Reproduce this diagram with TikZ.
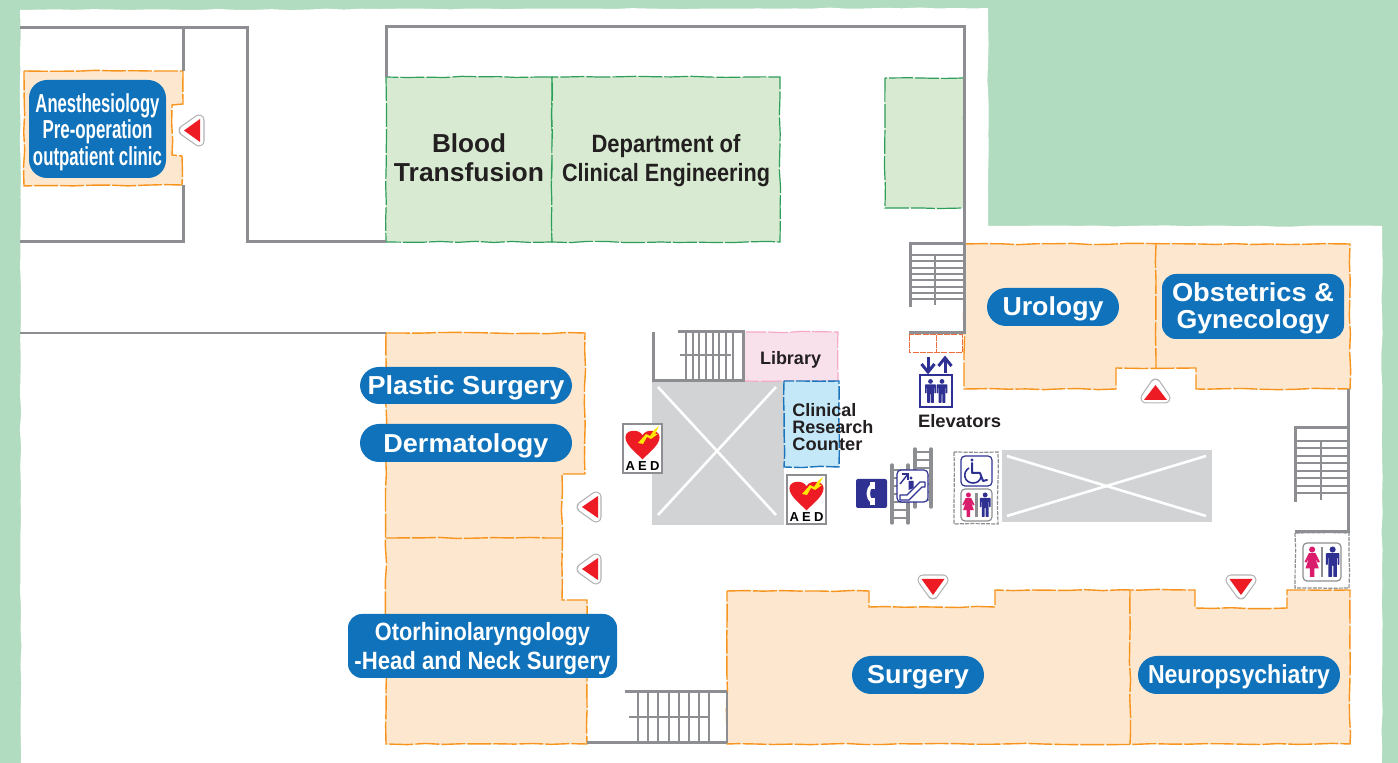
\documentclass[tikz,border=0pt]{standalone}
\usepackage{fontspec}
\usepackage{graphicx}
\setmainfont{Liberation Sans}
\usetikzlibrary{decorations.pathmorphing}
\definecolor{bggreen}{HTML}{B2DCC0}
\definecolor{wallgray}{HTML}{8C8E91}
\definecolor{voidgray}{HTML}{D1D3D4}
\definecolor{roomgreen}{HTML}{D8EBD2}
\definecolor{edgegreen}{HTML}{2E9E5B}
\definecolor{roomorange}{HTML}{FDE7CF}
\definecolor{edgeorange}{HTML}{F7941D}
\definecolor{roompink}{HTML}{F9E1EC}
\definecolor{edgepink}{HTML}{F5A9C8}
\definecolor{roomblue}{HTML}{C5E8F8}
\definecolor{edgeblue}{HTML}{1C75BC}
\definecolor{pillblue}{HTML}{0F72BA}
\definecolor{navy}{HTML}{2E3192}
\definecolor{wcpink}{HTML}{DA1C6C}
\definecolor{mapred}{HTML}{ED1C24}
\definecolor{darktext}{HTML}{231F20}
\definecolor{edgered}{HTML}{F26B3A}
% #1 downward shift of the text in pt, #2 width in pt, #3 font size, #4 text
\newcommand{\fitw}[4][0]{\raisebox{-#1pt}[\height][\depth]{\resizebox{#2pt}{\height}{\fontsize{#3}{#3}\selectfont\bfseries #4}}}
\tikzset{
  wobble/.style={decorate,decoration={random steps,segment length=9pt,amplitude=.35pt}},
  wall/.style={draw=wallgray,line width=1.5pt,line join=miter},
  tread/.style={draw=wallgray,line width=.9pt},
  greenroom/.style={fill=roomgreen,draw=edgegreen,line width=.6pt,dash pattern=on 12pt off 1pt,wobble},
  orangeroom/.style={fill=roomorange,draw=edgeorange,line width=.7pt,dash pattern=on 12pt off 1pt,wobble},
  pill/.style={fill=pillblue,text=white,inner sep=0pt,align=center,font=\bfseries\fontsize{12}{14.5}\selectfont},
  label/.style={text=darktext,inner sep=0pt,align=center,font=\bfseries\fontsize{12}{14.5}\selectfont},
  crossline/.style={draw=white,line width=1.3pt},
  haloout/.style={draw=voidgray!85!black,fill=voidgray!85!black,line width=5.5pt,line join=round},
  haloin/.style={draw=white,fill=white,line width=4.3pt,line join=round},
  redtri/.style={fill=mapred},
  iconbox/.style={draw=navy,fill=white,line width=.6pt,rounded corners=2pt},
  graybox/.style={draw=wallgray,line width=.6pt,dash pattern=on 2pt off .6pt,wobble}
}
\newcommand{\manfig}[4]{\begin{scope}[shift={(#1,#2)},scale=#3]
 \fill[#4] (0,.1) circle (.1);
 \fill[#4,rounded corners=.3pt] (-.22,.22)--(.22,.22)--(.22,.6)--(.16,.6)--(.16,.36)--(.14,.36)--(.14,1)--(.02,1)--(.02,.62)--(-.02,.62)--(-.02,1)--(-.14,1)--(-.14,.36)--(-.16,.36)--(-.16,.6)--(-.22,.6)--cycle;
\end{scope}}
\newcommand{\womanfig}[4]{\begin{scope}[shift={(#1,#2)},scale=#3]
 \fill[#4] (0,.1) circle (.1);
 \fill[#4] (-.11,.22)--(.11,.22)--(.25,.5)--(.19,.53)--(.1,.38)--(.22,.72)--(.07,.72)--(.07,1)--(-.07,1)--(-.07,.72)--(-.22,.72)--(-.1,.38)--(-.19,.53)--(-.25,.5)--cycle;
\end{scope}}
\newcommand{\aedicon}[3]{\begin{scope}[shift={(#1,#2)}]
 \draw[draw=wallgray,fill=white,line width=.7pt] (0,0) rectangle (39,49);
 \begin{scope}[shift={(19.5,5)},scale=31]
 \fill[mapred] (0,.98) .. controls (-.3,.68) and (-.55,.5) .. (-.55,.26) .. controls (-.55,.02) and (-.12,-.02) .. (0,.2) .. controls (.12,-.02) and (.55,.02) .. (.55,.26) .. controls (.55,.5) and (.3,.68) .. (0,.98) -- cycle;
 \end{scope}
 \fill[yellow!90!orange] (36,2)--(32,10)--(35,10)--(28,15)--(24,13)--(20,20)--(15,19)--(23,10)--(27,12)--(31,6)--cycle;
 \node[text=black,inner sep=0pt,font=\bfseries\fontsize{6.5}{6.5}\selectfont] (#3) at (19.5,42) {A\kern1.6pt E\kern1.6pt D};
\end{scope}}
\newcommand{\wcicon}[4]{\begin{scope}[shift={(#1,#2)}]
 \draw[draw=wallgray,fill=white,line width=.6pt,rounded corners=2pt] (0,0) rectangle (#3,#4);
 \draw[wallgray,line width=1.1pt] (#3*.5,4) -- (#3*.5,#4-4);
 \womanfig{#3*.24}{3.5}{#4-7.5}{wcpink}
 \manfig{#3*.78}{3.5}{#4-7.5}{navy}
\end{scope}}
\begin{document}
\begin{tikzpicture}[x=.5pt,y=-.5pt]
\useasboundingbox (0,0) rectangle (1398,763);
\begin{scope}
\clip (0,0) rectangle (1398,763);
\fill[bggreen] (0,0) rectangle (1398,763);
\fill[white,wobble] (20,10) -- (988,8) -- (988,226) -- (1382,226) -- (1382,790) -- (21,790) -- cycle;
\end{scope}

% voids
\fill[voidgray] (652,381) rectangle (784,525);
\draw[crossline] (658,387) -- (776,515);
\draw[crossline] (776,387) -- (658,515);
\fill[voidgray] (1002,450) rectangle (1212,522);
\draw[crossline] (1007,456) -- (1206,516);
\draw[crossline] (1007,516) -- (1206,456);

% rooms
\path[greenroom] (386,77) rectangle (552,242);
\path[greenroom] (552,77) rectangle (780,242);
\path[greenroom] (885,78) rectangle (964,208);
\path[orangeroom] (24,71) -- (183,71) -- (183,104) -- (172,105) -- (172,155) -- (182,156) -- (182,185) -- (24,186) -- cycle;
\path[orangeroom] (964,244) -- (1350,244) -- (1350,389) -- (1196,389) -- (1196,368) -- (1116,368) -- (1116,389) -- (964,389) -- cycle;
\draw[edgeorange,line width=.7pt,dash pattern=on 12pt off 1pt,wobble] (1156,244) -- (1156,368);
\path[orangeroom] (386,333) -- (585,333) -- (585,474) -- (562,474) -- (562,600) -- (587,600) -- (587,744) -- (386,744) -- cycle;
\draw[edgeorange,line width=.7pt,dash pattern=on 12pt off 1pt,wobble] (386,538) -- (562,538);
\path[orangeroom] (727,591) -- (869,591) -- (869,607) -- (995,607) -- (995,590) -- (1195,590) -- (1195,608) -- (1287,608) -- (1287,590) -- (1350,590) -- (1350,744) -- (727,744) -- cycle;
\draw[edgeorange,line width=.7pt,dash pattern=on 12pt off 1pt,wobble] (1130,590) -- (1130,744);
\path[fill=roompink,draw=edgepink,line width=.6pt,dash pattern=on 10pt off 1pt,wobble] (744,332) rectangle (838,381);
\path[fill=roomblue,draw=edgeblue,line width=.7pt,dash pattern=on 7pt off 1pt,wobble] (784,381) rectangle (839,467);
\draw[edgered,line width=.5pt,dash pattern=on 3pt off .6pt] (909,335) rectangle (962,353);
\draw[edgered,line width=.5pt,dash pattern=on 3pt off .6pt] (936,335) -- (936,353);

% walls
\draw[wall] (20,28) -- (247,28) -- (247,242) -- (386,242);
\draw[wall] (183,28) -- (183,71);
\draw[wall] (183,185) -- (183,242) -- (20,242);
\draw[wall] (386,77) -- (386,27) -- (964,27) -- (964,244);
\draw[wall,line width=1pt] (20,333) -- (386,333);
\draw[wall] (964,244) -- (964,333) -- (909,333);
\draw[wall] (1348,389) -- (1348,532) -- (1295,532);
\draw[wall] (587,743) -- (727,743);

% stairs: upper right of corridor
\draw[wall] (910,307) -- (910,244) -- (964,244);
\foreach \yy in {255,261,268,274,280,287,293,299} \draw[tread] (910,\yy) -- (963,\yy);
\draw[tread,line width=.6pt] (935,255) -- (935,305);
% stairs: right
\draw[wall] (1295,502) -- (1295,428) -- (1348,428);
\foreach \yy in {441,448,456,463,471,478,486,493} \draw[tread] (1295,\yy) -- (1347,\yy);
\draw[tread,line width=.6pt] (1321,441) -- (1321,500);
% stairs: centre
\draw[wall] (653,332) -- (653,381) -- (743,381) -- (743,332) -- (678,332);
\foreach \xx in {686,693,699,706,713,719,726,733} \draw[tread] (\xx,332) -- (\xx,381);
\draw[tread,line width=.6pt] (680,355) -- (731,355);
% stairs: bottom
\draw[wall] (625,692) -- (727,692);
\draw[wall,line width=1pt] (727,692) -- (727,743);
\foreach \xx in {638,648,658,669,679,689,699,709} \draw[tread] (\xx,692) -- (\xx,743);
\draw[tread,line width=.7pt] (629,717) -- (709,717);

% escalator
\foreach \yy in {470,478,486,494,502,510,518} \draw[tread,line width=.6pt] (893,\yy) -- (908,\yy);
\foreach \yy in {452,460,468,476,484,492,500} \draw[tread,line width=.6pt] (915,\yy) -- (931,\yy);
\draw[wallgray,line width=1.7pt,line cap=round] (892,465) -- (892,523) (908,465) -- (908,523) (915,449) -- (915,507) (931,449) -- (931,507);
\draw[iconbox] (897,470) rectangle (928,502);
\draw[navy,line width=.7pt,line join=round] (900,495) -- (907,495) -- (920,482) -- (925,482) -- (925,487) -- (922,487) -- (909,500) -- (900,500) -- cycle;
\fill[navy] (911,478) circle (1.6);
\fill[navy] (908.5,481) -- (913.5,481) -- (913.5,488) -- (908.5,490) -- cycle;
\draw[navy,line width=.7pt] (900,484) -- (908,474);
\draw[navy,line width=.7pt] (902,474) -- (908,474) -- (908,480);

% phone
\fill[navy,rounded corners=1pt] (856,479) rectangle (887,508);
\draw[white,line width=1.7pt] (872,485) .. controls (867,490) and (867,497) .. (872,502);
\fill[white] (870,482) -- (875,482) -- (875,489) -- (870,489) -- cycle;
\fill[white] (870,498) -- (875,498) -- (875,505) -- (870,505) -- cycle;

% toilets in centre
\path[graybox] (954,452) rectangle (998,524);
\draw[iconbox] (961,456) rectangle (992,486);
\fill[navy] (972,460) circle (1.7);
\draw[navy,line width=1pt,line cap=round,line join=round] (972,463) -- (972,473) -- (980,473) -- (983,481) -- (987,480);
\draw[navy,line width=.8pt] (969,468) .. controls (962,472) and (964,483) .. (973,483) .. controls (977,483) and (980,481) .. (981,477);
\wcicon{961}{489}{31}{32}

% right toilet
\path[graybox] (1295,533) rectangle (1349,588);
\wcicon{1303}{543}{38}{38}

% elevators
\draw[navy,line width=1pt,fill=white] (920,375) rectangle (952,407);
\manfig{930.5}{379}{24}{navy}
\manfig{942}{379}{24}{navy}
\draw[navy,line width=1.5pt] (928,357) -- (928,372);
\draw[navy,line width=1.5pt] (921.5,364) -- (928,372) -- (934.5,364);
\draw[navy,line width=1.5pt] (945,373) -- (945,358);
\draw[navy,line width=1.5pt] (938.5,366) -- (945,358) -- (951.5,366);

% AED
\aedicon{623}{424}{aedone}
\aedicon{787}{475}{aedtwo}

% direction marks
\draw[haloout] (184,130.5) -- (199,120) -- (199,141) -- cycle;
\draw[haloin] (184,130.5) -- (199,120) -- (199,141) -- cycle;
\fill[redtri] (184,130.5) -- (200,119) -- (200,142) -- cycle;
\foreach \yy in {507,569}{
 \draw[haloout] (582,\yy) -- (596,\yy-10) -- (596,\yy+10) -- cycle;
 \draw[haloin] (582,\yy) -- (596,\yy-10) -- (596,\yy+10) -- cycle;
 \fill[redtri] (582,\yy) -- (598,\yy-11) -- (598,\yy+11) -- cycle;
}
\draw[haloout] (1155.5,384) -- (1146,398) -- (1165,398) -- cycle;
\draw[haloin] (1155.5,384) -- (1146,398) -- (1165,398) -- cycle;
\fill[redtri] (1155.5,385) -- (1144,400) -- (1167,400) -- cycle;
\foreach \xx in {933,1241}{
 \draw[haloout] (\xx,594) -- (\xx-10,580) -- (\xx+10,580) -- cycle;
 \draw[haloin] (\xx,594) -- (\xx-10,580) -- (\xx+10,580) -- cycle;
 \fill[redtri] (\xx,595) -- (\xx-11.5,579) -- (\xx+11.5,579) -- cycle;
}

% pills
\node[pill,rounded corners=9pt,minimum width=68.5pt,minimum height=49pt,font=\bfseries\fontsize{12}{13.3}\selectfont] (anes) at (97.5,129) {\fitw[1.5]{62}{13}{Anesthesiology}\\\fitw[1.5]{55}{13}{Pre-operation}\\\fitw[1.5]{64.5}{13}{outpatient clinic}};
\node[pill,rounded corners=9.5pt,minimum width=106pt,minimum height=18.5pt] (plastic) at (466,385.5) {\fitw[1]{98.5}{13}{Plastic Surgery}};
\node[pill,rounded corners=9.5pt,minimum width=106pt,minimum height=19pt] (derm) at (466,443) {\fitw[1.2]{82.5}{13}{Dermatology}};
\node[pill,rounded corners=7pt,minimum width=134.5pt,minimum height=32pt] (oto) at (482.5,646) {\fitw[1.5]{107.5}{12.5}{Otorhinolaryngology}\\\fitw[1.5]{128}{12.5}{-Head and Neck Surgery}};
\node[pill,rounded corners=9.5pt,minimum width=66pt,minimum height=19pt] (uro) at (1053,307) {\fitw[1]{50.5}{13}{Urology}};
\node[pill,rounded corners=7pt,minimum width=91pt,minimum height=32.5pt] (obgyn) at (1253,306.5) {\fitw[1]{81}{13}{Obstetrics \&}\\[-1pt]\fitw[1]{76.5}{13}{Gynecology}};
\node[pill,rounded corners=9.5pt,minimum width=66pt,minimum height=19pt] (surgery) at (918,675) {\fitw[1]{51}{13}{Surgery}};
\node[pill,rounded corners=9.5pt,minimum width=101pt,minimum height=19pt] (neuro) at (1239,675) {\fitw[.7]{91}{13}{Neuropsychiatry}};

% labels
\node[label] (blood) at (469,157.5) {\fitw{37}{13}{Blood}\\\fitw{75}{13}{Transfusion}};
\node[label] (dept) at (666,161) {\fitw{74.5}{12.5}{Department of}\\\fitw{104}{12.5}{Clinical Engineering}};
\node[label] (library) at (790.5,358) {\fitw[1]{30.5}{9}{Library}};
\node[label,align=left,anchor=north west,font=\bfseries\fontsize{9}{8.6}\selectfont] (clinical) at (792,403) {\fitw{32}{9}{Clinical}\\\fitw{40.5}{9}{Research}\\\fitw{35}{9}{Counter}};
\node[label] (elev) at (959.5,421) {\fitw{41.5}{9}{Elevators}};
\end{tikzpicture}
\end{document}
